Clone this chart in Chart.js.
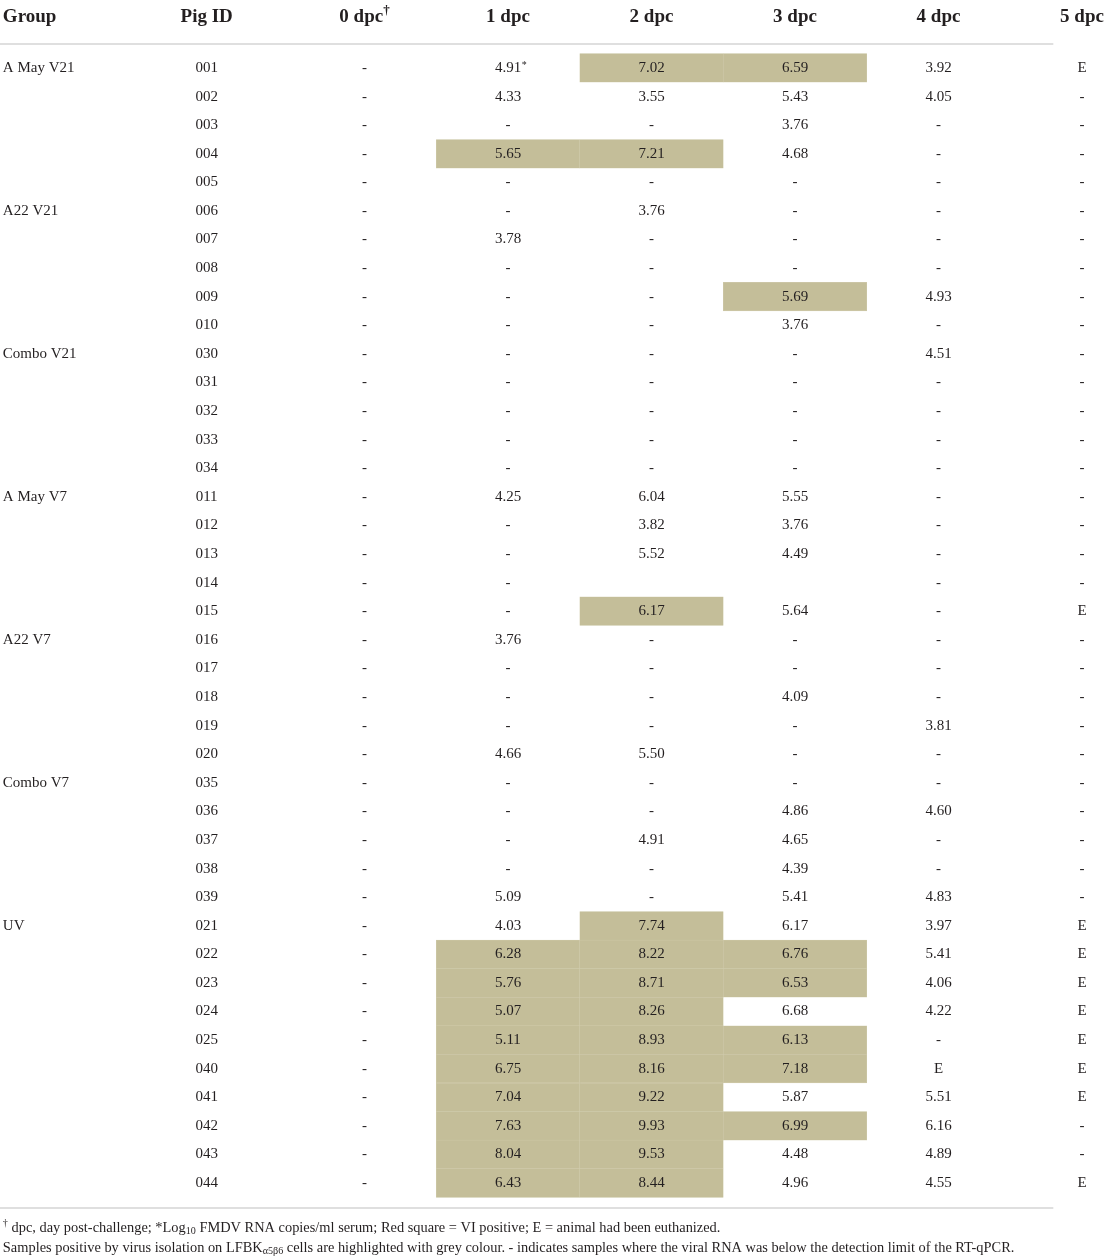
<!DOCTYPE html>
<html>
<head>
<meta charset="utf-8">
<script src="https://cdn.jsdelivr.net/npm/chart.js@4.4.1/dist/chart.umd.min.js"></script>
<style>
    html, body { margin: 0; padding: 0; background: #fff; }
    #wrap { width: 1107px; height: 1260px; position: relative; }
</style>
</head>
<body>
<div id="wrap"><canvas id="vi-table"></canvas></div>
<script>
// table content
const groupNames = ['A May V21', 'A22 V21', 'Combo V21', 'A May V7', 'A22 V7', 'Combo V7', 'UV'];
const groupSizes = [5, 5, 5, 5, 5, 5, 10];
const pigIds = ['001', '002', '003', '004', '005', '006', '007', '008', '009', '010',
                '030', '031', '032', '033', '034', '011', '012', '013', '014', '015',
                '016', '017', '018', '019', '020', '035', '036', '037', '038', '039',
                '021', '022', '023', '024', '025', '040', '041', '042', '043', '044'];
const dpcLabels = ['0 dpc', '1 dpc', '2 dpc', '3 dpc', '4 dpc', '5 dpc'];

// '-' = below detection limit, 'E' = euthanized, '' = empty cell
const dpc0 = ['-', '-', '-', '-', '-', '-', '-', '-', '-', '-',
              '-', '-', '-', '-', '-', '-', '-', '-', '-', '-',
              '-', '-', '-', '-', '-', '-', '-', '-', '-', '-',
              '-', '-', '-', '-', '-', '-', '-', '-', '-', '-'];
const dpc1 = [4.91, 4.33, '-', 5.65, '-', '-', 3.78, '-', '-', '-',
              '-', '-', '-', '-', '-', 4.25, '-', '-', '-', '-',
              3.76, '-', '-', '-', 4.66, '-', '-', '-', '-', 5.09,
              4.03, 6.28, 5.76, 5.07, 5.11, 6.75, 7.04, 7.63, 8.04, 6.43];
const dpc2 = [7.02, 3.55, '-', 7.21, '-', 3.76, '-', '-', '-', '-',
              '-', '-', '-', '-', '-', 6.04, 3.82, 5.52, '', 6.17,
              '-', '-', '-', '-', 5.50, '-', '-', 4.91, '-', '-',
              7.74, 8.22, 8.71, 8.26, 8.93, 8.16, 9.22, 9.93, 9.53, 8.44];
const dpc3 = [6.59, 5.43, 3.76, 4.68, '-', '-', '-', '-', 5.69, 3.76,
              '-', '-', '-', '-', '-', 5.55, 3.76, 4.49, '', 5.64,
              '-', '-', 4.09, '-', '-', '-', 4.86, 4.65, 4.39, 5.41,
              6.17, 6.76, 6.53, 6.68, 6.13, 7.18, 5.87, 6.99, 4.48, 4.96];
const dpc4 = [3.92, 4.05, '-', '-', '-', '-', '-', '-', 4.93, '-',
              4.51, '-', '-', '-', '-', '-', '-', '-', '-', '-',
              '-', '-', '-', 3.81, '-', '-', 4.60, '-', '-', 4.83,
              3.97, 5.41, 4.06, 4.22, '-', 'E', 5.51, 6.16, 4.89, 4.55];
const dpc5 = ['E', '-', '-', '-', '-', '-', '-', '-', '-', '-',
              '-', '-', '-', '-', '-', '-', '-', '-', '-', 'E',
              '-', '-', '-', '-', '-', '-', '-', '-', '-', '-',
              'E', 'E', 'E', 'E', 'E', 'E', 'E', '-', '-', 'E'];
const dpcValues = [dpc0, dpc1, dpc2, dpc3, dpc4, dpc5];

// virus isolation positive cells (pig IDs per day)
const viPositive1 = ['004', '022', '023', '024', '025', '040', '041', '042', '043', '044'];
const viPositive2 = ['001', '004', '015', '021', '022', '023', '024', '025', '040', '041', '042', '043', '044'];
const viPositive3 = ['001', '009', '022', '023', '025', '040', '042'];
const asteriskCells = [['001', 1]];

const footLine1 = [['†', 'sup'], [' dpc, day post-challenge; *Log', 'n'], ['10', 'sub'],
                   [' FMDV RNA copies/ml serum; Red square = VI positive; E = animal had been euthanized.', 'n']];
const footLine2 = [['Samples positive by virus isolation on LFBK', 'n'], ['α5β6', 'sub'],
                   [' cells are highlighted with grey colour. - indicates samples where the viral RNA was below the detection limit of the RT-qPCR.', 'n']];

// layout in scale units (x: day columns, y: row index)
const SERIF = '"Liberation Serif", "DejaVu Serif", serif';
const TEXT = '#231f20';
const X_GROUP = -2.52;
const X_PIG = -1.10;
const Y_HEADER = -1.78;
const Y_TOP_RULE = -0.84;
const Y_BOTTOM_RULE = 39.87;
const Y_NOTES = [40.57, 41.27];
const X_RULE_END = 4.80;

// build highlight bars from the VI positive lists
const highlightBars = [];
[viPositive1, viPositive2, viPositive3].forEach((ids, i) => {
    const day = i + 1;
    ids.forEach(id => {
        highlightBars.push({ y: pigIds.indexOf(id), x: [day - 0.5, day + 0.5] });
    });
});

function fmt(v) {
    return typeof v === 'number' ? v.toFixed(2) : v;
}

function drawRuns(ctx, runs, x, y, size) {
    let cx = x;
    runs.forEach(([text, mode]) => {
        const s = mode === 'n' ? size : size * 0.7;
        const dy = mode === 'sup' ? -size * 0.35 : (mode === 'sub' ? size * 0.22 : 0);
        ctx.font = `${s}px ${SERIF}`;
        ctx.fillText(text, cx, y + dy);
        cx += ctx.measureText(text).width;
    });
}

const tableText = {
    id: 'tableText',
    afterDatasetsDraw(chart) {
        const ctx = chart.ctx;
        const xs = chart.scales.x;
        const ys = chart.scales.y;
        const px = v => xs.getPixelForValue(v);
        const py = v => ys.getPixelForValue(v);

        ctx.save();
        ctx.fillStyle = TEXT;
        ctx.textBaseline = 'middle';

        // header row
        ctx.font = `bold 19px ${SERIF}`;
        ctx.textAlign = 'left';
        ctx.fillText('Group', px(X_GROUP), py(Y_HEADER));
        ctx.textAlign = 'center';
        ctx.fillText('Pig ID', px(X_PIG), py(Y_HEADER));
        dpcLabels.forEach((label, d) => {
            ctx.font = `bold 19px ${SERIF}`;
            if (d === 0) {
                const w = ctx.measureText(label).width;
                ctx.font = `bold 13px ${SERIF}`;
                const wd = ctx.measureText('†').width;
                const left = px(d) - (w + wd) / 2;
                ctx.textAlign = 'left';
                ctx.font = `bold 19px ${SERIF}`;
                ctx.fillText(label, left, py(Y_HEADER));
                ctx.font = `bold 13px ${SERIF}`;
                ctx.fillText('†', left + w, py(Y_HEADER) - 6);
                ctx.textAlign = 'center';
            } else {
                ctx.fillText(label, px(d), py(Y_HEADER));
            }
        });

        // rules
        ctx.strokeStyle = '#d4d4d4';
        ctx.lineWidth = 1.5;
        [Y_TOP_RULE, Y_BOTTOM_RULE].forEach(r => {
            ctx.beginPath();
            ctx.moveTo(0, py(r));
            ctx.lineTo(px(X_RULE_END), py(r));
            ctx.stroke();
        });

        // group labels
        ctx.font = `15px ${SERIF}`;
        ctx.textAlign = 'left';
        let start = 0;
        groupNames.forEach((name, g) => {
            ctx.fillText(name, px(X_GROUP), py(start));
            start += groupSizes[g];
        });

        // pig ids and values
        ctx.textAlign = 'center';
        pigIds.forEach((id, r) => {
            ctx.font = `15px ${SERIF}`;
            ctx.fillText(id, px(X_PIG), py(r));
            dpcValues.forEach((series, d) => {
                const txt = fmt(series[r]);
                if (!txt) return;
                const star = asteriskCells.some(([sid, sd]) => sid === id && sd === d);
                ctx.font = `15px ${SERIF}`;
                if (star) {
                    const w = ctx.measureText(txt).width;
                    ctx.textAlign = 'left';
                    const left = px(d) - w / 2;
                    ctx.fillText(txt, left, py(r));
                    ctx.font = `10px ${SERIF}`;
                    ctx.fillText('*', left + w + 0.5, py(r) - 3);
                    ctx.textAlign = 'center';
                } else {
                    ctx.fillText(txt, px(d), py(r));
                }
            });
        });

        // footnotes
        ctx.textAlign = 'left';
        drawRuns(ctx, footLine1, px(X_GROUP), py(Y_NOTES[0]), 14.4);
        drawRuns(ctx, footLine2, px(X_GROUP), py(Y_NOTES[1]), 14.4);
        ctx.restore();
    }
};

new Chart(document.getElementById('vi-table'), {
    type: 'bar',
    data: {
        datasets: [{
            label: 'VI positive',
            data: highlightBars,
            backgroundColor: '#c4be99',
            borderColor: '#d2cdb0',
            borderWidth: 0.5,
            borderSkipped: false,
            barPercentage: 1,
            categoryPercentage: 1
        }]
    },
    options: {
        indexAxis: 'y',
        responsive: true,
        maintainAspectRatio: false,
        animation: false,
        layout: { padding: 0 },
        plugins: {
            legend: { display: false },
            tooltip: { enabled: false }
        },
        scales: {
            x: {
                type: 'linear',
                display: false,
                offset: false,
                min: -2.54,
                max: 5.174
            },
            y: {
                type: 'linear',
                display: false,
                offset: false,
                reverse: true,
                min: -2.378,
                max: 41.69,
                ticks: { stepSize: 1 },
                // keep only whole-row ticks so the bar height equals one row
                afterBuildTicks: scale => {
                    scale.ticks = scale.ticks.filter(t => Number.isInteger(t.value));
                }
            }
        }
    },
    plugins: [tableText]
});
</script>
</body>
</html>
